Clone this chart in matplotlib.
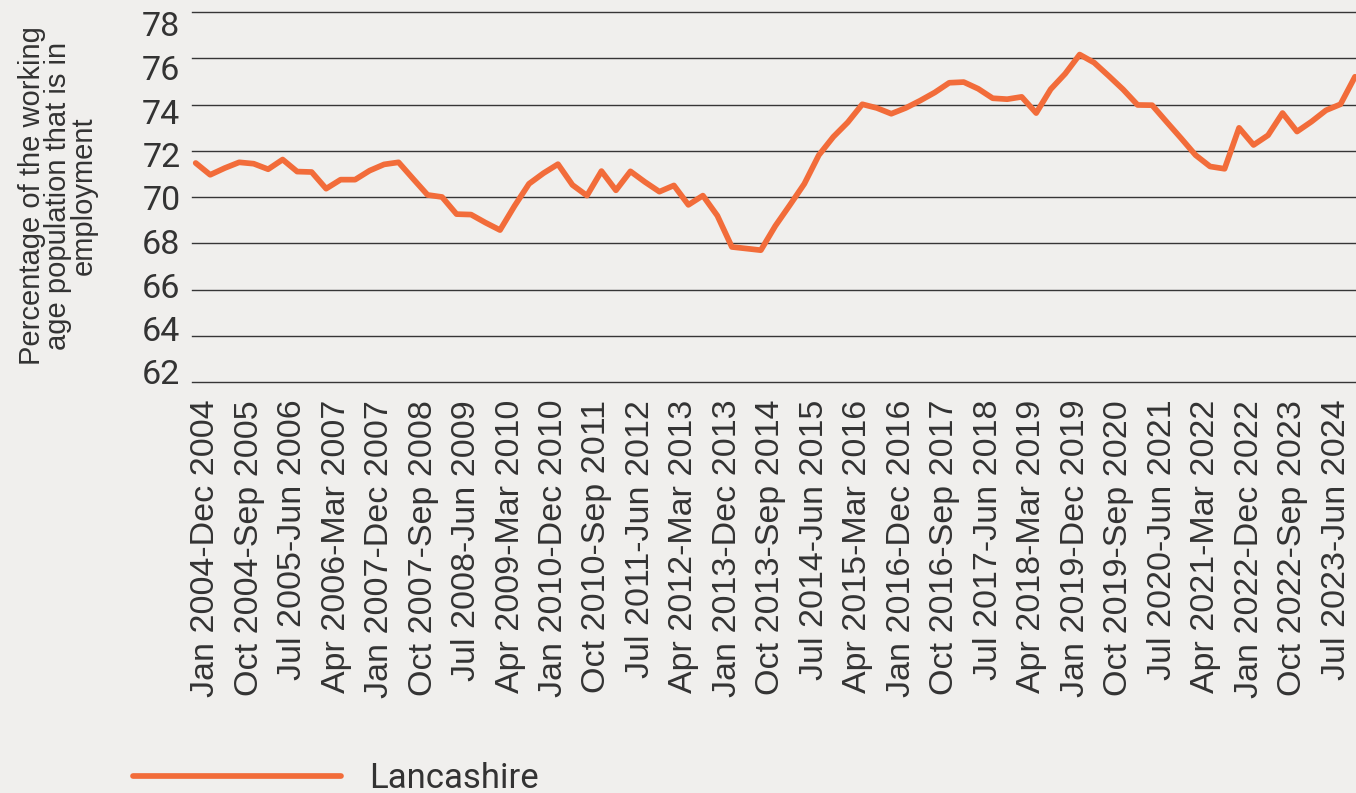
import matplotlib
matplotlib.use("Agg")
import matplotlib.pyplot as plt

# ---------------- data ----------------
start_months = ["Jan", "Apr", "Jul", "Oct"]
end_months = ["Dec", "Mar", "Jun", "Sep"]
periods = []
for i in range(81):
    yr = 2004 + i // 4
    q = i % 4
    periods.append(f"{start_months[q]} {yr}-{end_months[q]} {yr + (0 if q == 0 else 1)}")

employment_rate = [
    71.47, 70.96, 71.25, 71.50, 71.44, 71.20, 71.62, 71.10, 71.08, 70.36,
    70.75, 70.75, 71.14, 71.41, 71.50, 70.79, 70.09, 70.00, 69.26, 69.24,
    68.89, 68.57, 69.61, 70.57, 71.03, 71.42, 70.52, 70.06, 71.12, 70.29,
    71.11, 70.65, 70.23, 70.50, 69.66, 70.06, 69.19, 67.84, 67.77, 67.70,
    68.75, 69.65, 70.57, 71.81, 72.60, 73.23, 74.01, 73.85, 73.60, 73.85,
    74.17, 74.52, 74.94, 74.97, 74.68, 74.27, 74.23, 74.33, 73.63, 74.66,
    75.33, 76.16, 75.81, 75.24, 74.65, 73.98, 73.97, 73.25, 72.54, 71.81,
    71.32, 71.22, 72.99, 72.25, 72.67, 73.63, 72.83, 73.26, 73.75, 74.01,
    75.20,
]
series_name = "Lancashire"
y_ticks = [62, 64, 66, 68, 70, 72, 74, 76, 78]
x_tick_idx = list(range(0, 79, 3))
x_tick_labels = [periods[i] for i in x_tick_idx]
y_label = "Percentage of the working\nage population that is in\nemployment"

# ---------------- style ----------------
W, H = 1356, 793
BG = "#f0efed"
ORANGE = "#f26c3a"
TXT = "#333333"
GRID = "#363636"

fig = plt.figure(figsize=(W / 100, H / 100), dpi=100, facecolor=BG)

def rect(x0, y0, x1, y1):
    return [x0 / W, 1 - y1 / H, (x1 - x0) / W, (y1 - y0) / H]

xlim = (-0.255, 80.07)
ylim = (62, 78)

# main plotting axes
ax = fig.add_axes(rect(192, 12, 1356, 382))
ax.set_facecolor(BG)
x = list(range(len(employment_rate)))
ax.plot(x, employment_rate, color=ORANGE, lw=4.1, solid_joinstyle="round",
        solid_capstyle="round", zorder=3, clip_on=False)
ax.set_xlim(*xlim)
ax.set_ylim(*ylim)
ax.set_yticks(y_ticks)
ax.set_xticks([])
ax.grid(axis="y", color=GRID, lw=1.0)
for gl in ax.get_ygridlines():
    gl.set_clip_on(False)
ax.tick_params(axis="y", length=0, labelleft=False)
for s in ax.spines.values():
    s.set_visible(False)

# label axes (same scales, text layer placement as in reference)
axl = fig.add_axes(rect(202, 24, 1366, 372))
axl.patch.set_alpha(0)
axl.set_xlim(*xlim)
axl.set_ylim(*ylim)
axl.set_yticks(y_ticks)
axl.set_yticklabels([str(v) for v in y_ticks], fontsize=24.5,
                    family=["Roboto", "DejaVu Sans"], color=TXT)
axl.set_xticks(x_tick_idx)
axl.set_xticklabels(x_tick_labels, rotation=90, fontsize=24.5,
                    family=["Liberation Sans", "DejaVu Sans"], color=TXT)
axl.tick_params(axis="y", length=0, pad=15.5)
axl.tick_params(axis="x", length=0, pad=20)
for s in axl.spines.values():
    s.set_visible(False)

# y axis title
fig.text(58 / W, 1 - 196 / H, y_label, rotation=90, ha="center", va="center",
         multialignment="center", fontsize=21, linespacing=0.92,
         family=["Liberation Sans", "DejaVu Sans"], color=TXT)

# legend
handle = plt.Line2D([], [], color=ORANGE, lw=4.1, solid_capstyle="round")
leg = fig.legend([handle], [series_name], loc="center left",
                 bbox_to_anchor=(133 / W, 1 - 779 / H), frameon=False,
                 borderpad=0, borderaxespad=0, handlelength=6.0,
                 handletextpad=0.8,
                 prop={"family": ["Roboto", "DejaVu Sans"], "size": 25})
for t in leg.get_texts():
    t.set_color(TXT)

fig.savefig("out.png", dpi=100, facecolor=BG)
